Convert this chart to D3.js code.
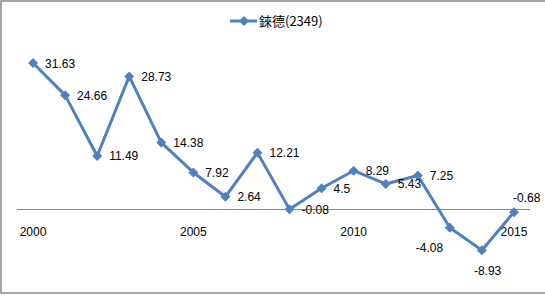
<!DOCTYPE html>
<html><head><meta charset="utf-8">
<script src="https://cdn.jsdelivr.net/npm/d3@7"></script>
<style>body{margin:0;background:#fff}svg{display:block}</style>
</head><body>
<svg id="c" width="545" height="297"></svg>
<script>
const years = [2000,2001,2002,2003,2004,2005,2006,2007,2008,2009,2010,2011,2012,2013,2014,2015];
const values = [31.63,24.66,11.49,28.73,14.38,7.92,2.64,12.21,-0.08,4.5,8.29,5.43,7.25,-4.08,-8.93,-0.68];
const labels = ["31.63","24.66","11.49","28.73","14.38","7.92","2.64","12.21","-0.08","4.5","8.29","5.43","7.25","-4.08","-8.93","-0.68"];
const tickYears = [2000,2005,2010,2015];
const seriesName = "錸德(2349)";

const svg = d3.select("#c");
const color = "#4F81BD";
const font = "'Liberation Sans', Arial, sans-serif";

// frame
svg.append("rect").attr("x",1).attr("y",1).attr("width",600).attr("height",292)
  .attr("fill","none").attr("stroke","#868686").attr("stroke-width",1.5);

const x = d3.scaleBand().domain(years).range([17,530]);
const y = d3.scaleLinear().domain([0,31.63]).range([209,63]);
const cx = d => x(d) + x.bandwidth()/2;

// zero axis line
svg.append("line").attr("x1",17).attr("x2",530).attr("y1",y(0)+0.5).attr("y2",y(0)+0.5)
  .attr("stroke","#868686").attr("stroke-width",1);

// tick labels
svg.selectAll(".tk").data(tickYears).enter().append("text")
  .attr("x",d=>cx(d)).attr("y",236).attr("text-anchor","middle")
  .attr("font-family",font).attr("font-size",12).attr("fill","#000").text(d=>d);

const data = years.map((yr,i)=>({yr, v:values[i], l:labels[i]}));

svg.append("path").datum(data)
  .attr("d", d3.line().x(d=>cx(d.yr)).y(d=>y(d.v)))
  .attr("fill","none").attr("stroke",color).attr("stroke-width",3).attr("stroke-linejoin","round");

const r = 5;
const diamond = `M0,${-r}L${r},0L0,${r}L${-r},0Z`;
svg.selectAll(".pt").data(data).enter().append("path")
  .attr("d",diamond).attr("transform",d=>`translate(${cx(d.yr)},${y(d.v)})`).attr("fill",color);

// data labels
const offs = {2013:[-34,20], 2014:[-8,20], 2015:[-1,-15]};
svg.selectAll(".lb").data(data).enter().append("text")
  .attr("x",d=>cx(d.yr) + (offs[d.yr]?offs[d.yr][0]:12))
  .attr("y",d=>y(d.v) + (offs[d.yr]?offs[d.yr][1]:0) + 4.5)
  .attr("font-family",font).attr("font-size",12).attr("fill","#000").text(d=>d.l);

// legend
const lg = svg.append("g");
lg.append("line").attr("x1",230).attr("x2",257).attr("y1",21).attr("y2",21).attr("stroke",color).attr("stroke-width",3);
lg.append("path").attr("d",diamond).attr("transform","translate(244,21)").attr("fill",color);
lg.append("text").attr("x",259).attr("y",26).attr("font-family","'Noto Sans CJK TC', "+font)
  .attr("font-size",13).attr("fill","#000").text(seriesName);
</script>
</body></html>
